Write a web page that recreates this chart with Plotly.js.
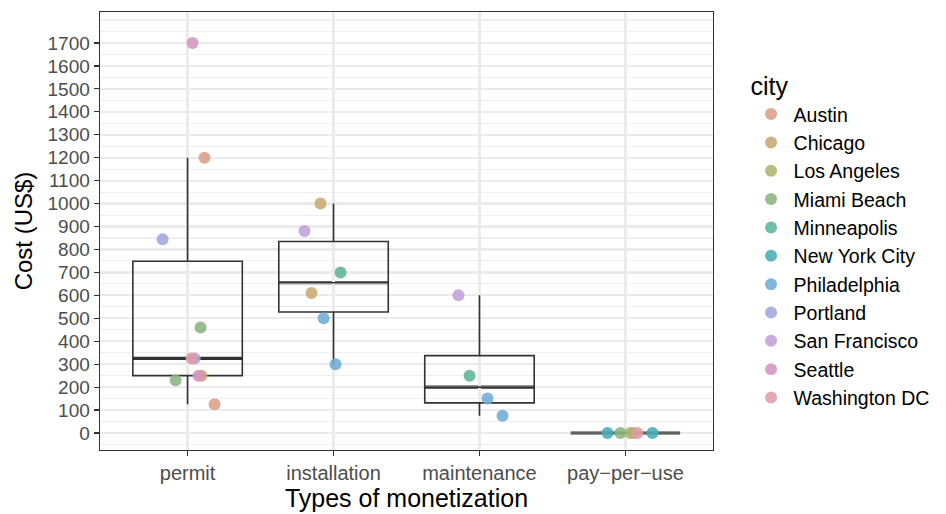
<!DOCTYPE html>
<html>
<head>
<meta charset="utf-8">
<script src="https://cdn.plot.ly/plotly-3.0.1.min.js"></script>
<style>html,body{margin:0;padding:0;background:#fff;}#chart{width:946px;height:514px;}</style>
</head>
<body>
<div id="chart"></div>
<script>
// Categories (x axis)
const types = ["permit", "installation", "maintenance", "pay\u2212per\u2212use"];
// Cities (legend order) and colours
const cities = ["Austin", "Chicago", "Los Angeles", "Miami Beach", "Minneapolis", "New York City",
                "Philadelphia", "Portland", "San Francisco", "Seattle", "Washington DC"];
const cityColors = ["#DC9E88", "#CBA872", "#AEB46E", "#8BB47F", "#5FB498", "#47ADB8",
                    "#6FACD6", "#A0A7DE", "#C39FDA", "#D794C2", "#E09CA5"];
const pointCity = ["Seattle", "Austin", "Portland", "Miami Beach", "Portland", "Washington DC", "Chicago", "Seattle", "Miami Beach", "Austin",
                   "Chicago", "San Francisco", "Minneapolis", "Chicago", "Philadelphia", "Philadelphia",
                   "San Francisco", "Minneapolis", "Philadelphia", "Philadelphia",
                   "New York City", "Miami Beach", "Los Angeles", "Chicago", "Washington DC", "New York City"];
const pointType = [0, 0, 0, 0, 0, 0, 0, 0, 0, 0,
                   1, 1, 1, 1, 1, 1,
                   2, 2, 2, 2,
                   3, 3, 3, 3, 3, 3];
const pointCost = [1700, 1200, 845, 460, 325, 325, 250, 250, 230, 125,
                   1000, 880, 700, 610, 500, 300,
                   600, 250, 150, 75,
                   0, 0, 0, 0, 0, 0];
const pointJitter = [0.034, 0.116, -0.171, 0.089, 0.048, 0.027, 0.096, 0.075, -0.082, 0.185,
                     -0.089, -0.199, 0.048, -0.151, -0.068, 0.014,
                     -0.144, -0.068, 0.055, 0.158,
                     -0.123, -0.034, 0.034, 0.055, 0.082, 0.185];
const yTicks = [0,100,200,300,400,500,600,700,800,900,1000,1100,1200,1300,1400,1500,1600,1700];

// R type-7 quantile
function quant(arr, p) {
  const s = arr.slice().sort((a, b) => a - b);
  const h = (s.length - 1) * p;
  const lo = Math.floor(h), hi = Math.ceil(h);
  return s[lo] + (h - lo) * (s[hi] - s[lo]);
}
const stats = types.map((t, i) => {
  const v = pointCost.filter((c, k) => pointType[k] === i);
  const q1 = quant(v, 0.25), med = quant(v, 0.5), q3 = quant(v, 0.75);
  const iqr = q3 - q1;
  const inside = v.filter(x => x >= q1 - 1.5 * iqr && x <= q3 + 1.5 * iqr);
  return {q1, med, q3, lo: Math.min(...inside), hi: Math.max(...inside)};
});

const boxW = 0.75;
const traces = [];
traces.push({
  type: "box",
  x: types.map((t, i) => i),
  q1: stats.map(s => s.q1),
  median: stats.map(s => s.med),
  q3: stats.map(s => s.q3),
  lowerfence: stats.map(s => s.lo),
  upperfence: stats.map(s => s.hi),
  width: boxW,
  whiskerwidth: 0,
  boxpoints: false,
  fillcolor: "rgba(255,255,255,0)",
  line: {color: "#333333", width: 1.6},
  showlegend: false,
  hoverinfo: "skip"
});
cities.forEach((c, ci) => {
  const idx = pointCity.map((pc, k) => pc === c ? k : -1).filter(k => k >= 0);
  traces.push({
    type: "scatter",
    mode: "markers",
    name: c,
    legendgroup: c,
    x: idx.map(k => pointType[k] + pointJitter[k]),
    y: idx.map(k => pointCost[k]),
    marker: {color: cityColors[ci], size: 12, opacity: 0.88},
    cliponaxis: false
  });
});

const shapes = stats.map((s, i) => ({
  type: "line", xref: "x", yref: "y",
  x0: i - boxW / 2, x1: i + boxW / 2, y0: s.med, y1: s.med,
  line: {color: "#333333", width: 3.2}, layer: "below"
}));

const layout = {
  width: 946, height: 514,
  margin: {l: 100, r: 233, t: 12, b: 64, autoexpand: false},
  paper_bgcolor: "#ffffff",
  plot_bgcolor: "#ffffff",
  font: {family: "Liberation Sans, Arial, sans-serif", color: "#000"},
  showlegend: true,
  shapes: shapes,
  xaxis: {
    range: [-0.6, 3.6],
    tickmode: "array",
    tickvals: types.map((t, i) => i),
    ticktext: types,
    tickfont: {size: 20, color: "#4D4D4D"},
    ticks: "outside", ticklen: 5, tickwidth: 1.2, tickcolor: "#333333",
    showgrid: true, gridcolor: "#EBEBEB", gridwidth: 2.2,
    zeroline: false,
    showline: true, mirror: true, linecolor: "#333333", linewidth: 1.4,
    title: {text: "Types of monetization", font: {size: 25, color: "#000"}, standoff: 2}
  },
  yaxis: {
    range: [-74, 1835],
    tickmode: "array",
    tickvals: yTicks,
    tickfont: {size: 19, color: "#4D4D4D"},
    ticks: "outside", ticklen: 5, tickwidth: 1.2, tickcolor: "#333333",
    showgrid: true, gridcolor: "#EBEBEB", gridwidth: 2.2,
    minor: {dtick: 50, tick0: 0, showgrid: true, gridcolor: "#EFEFEF", gridwidth: 1.1, ticks: ""},
    zeroline: false,
    showline: true, mirror: true, linecolor: "#333333", linewidth: 1.4,
    title: {text: "Cost (US$)", font: {size: 24, color: "#000"}, standoff: 8}
  },
  legend: {
    x: 1.058, xanchor: "left", y: 0.885, yanchor: "top",
    title: {text: "city", font: {size: 25, color: "#000"}},
    font: {size: 19.5, color: "#000"},
    tracegroupgap: 0,
    itemwidth: 35,
    bgcolor: "rgba(0,0,0,0)"
  }
};

Plotly.newPlot("chart", traces, layout, {displayModeBar: false, staticPlot: true});
</script>
</body>
</html>
